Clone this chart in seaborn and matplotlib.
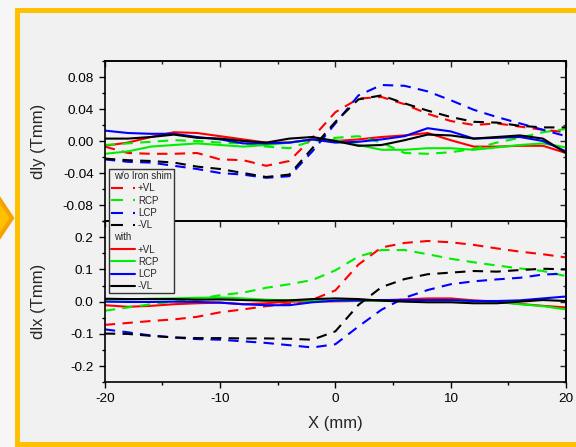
import matplotlib
matplotlib.use("Agg")
import matplotlib.pyplot as plt
import numpy as np
import pandas as pd
import seaborn as sns
from matplotlib.lines import Line2D
from matplotlib.patches import Rectangle, Polygon
from matplotlib.ticker import MultipleLocator, FormatStrFormatter

# ---- data -------------------------------------------------------------
x_mm = [-20, -18, -16, -14, -12, -10, -8, -6, -4, -2, 0,
        2, 4, 6, 8, 10, 12, 14, 16, 18, 20]
polarizations = ["+VL", "RCP", "LCP", "-VL"]
shim_states = ["w/o Iron shim", "with"]

# dIy, without iron shim
dly_wo_pVL = [-0.007, -0.015, -0.016, -0.016, -0.015, -0.023, -0.024, -0.031, -0.025, 0.004, 0.036,
              0.053, 0.055, 0.046, 0.034, 0.025, 0.020, 0.022, 0.018, 0.014, 0.011]
dly_wo_RCP = [-0.005, -0.003, -0.001, 0.001, 0.000, -0.002, -0.003, -0.007, -0.009, 0.000, 0.004,
              0.006, -0.002, -0.015, -0.016, -0.014, -0.010, -0.002, 0.004, 0.011, 0.015]
dly_wo_LCP = [-0.023, -0.026, -0.027, -0.031, -0.035, -0.040, -0.042, -0.046, -0.044, -0.013, 0.022,
              0.057, 0.070, 0.069, 0.062, 0.051, 0.039, 0.030, 0.022, 0.014, 0.006]
dly_wo_mVL = [-0.022, -0.024, -0.025, -0.027, -0.032, -0.035, -0.040, -0.045, -0.042, -0.009, 0.024,
              0.052, 0.057, 0.047, 0.038, 0.030, 0.024, 0.023, 0.019, 0.017, 0.017]
# dIy, with iron shim
dly_w_pVL = [-0.006, -0.002, 0.005, 0.011, 0.010, 0.006, 0.002, -0.002, -0.002, 0.002, 0.000,
             0.002, 0.005, 0.007, 0.010, 0.001, -0.007, -0.007, -0.006, -0.006, -0.015]
dly_w_RCP = [-0.016, -0.013, -0.007, -0.005, -0.003, -0.005, -0.007, -0.005, -0.002, 0.002, 0.001,
             -0.005, -0.011, -0.011, -0.009, -0.009, -0.011, -0.008, -0.005, -0.003, -0.008]
dly_w_LCP = [0.013, 0.010, 0.009, 0.009, 0.005, 0.002, -0.003, -0.003, -0.002, 0.002, -0.002,
             -0.001, 0.002, 0.006, 0.016, 0.012, 0.003, 0.004, 0.005, 0.000, -0.013]
dly_w_mVL = [0.003, 0.003, 0.005, 0.008, 0.004, 0.003, 0.000, -0.002, 0.003, 0.005, 0.000,
             -0.006, -0.005, 0.001, 0.008, 0.007, 0.003, 0.005, 0.007, 0.003, -0.015]

# dIx, without iron shim
dlx_wo_pVL = [-0.072, -0.066, -0.060, -0.055, -0.047, -0.033, -0.024, -0.014, -0.006, 0.006, 0.035,
              0.115, 0.168, 0.182, 0.188, 0.184, 0.176, 0.165, 0.155, 0.147, 0.137]
dlx_wo_RCP = [-0.028, -0.018, -0.008, 0.000, 0.008, 0.020, 0.028, 0.043, 0.054, 0.067, 0.097,
              0.140, 0.160, 0.160, 0.147, 0.133, 0.122, 0.112, 0.103, 0.095, 0.079]
dlx_wo_LCP = [-0.086, -0.095, -0.105, -0.111, -0.116, -0.118, -0.123, -0.128, -0.135, -0.142, -0.132,
              -0.077, -0.025, 0.012, 0.036, 0.054, 0.063, 0.069, 0.074, 0.084, 0.087]
dlx_wo_mVL = [-0.099, -0.100, -0.106, -0.111, -0.113, -0.113, -0.114, -0.114, -0.115, -0.118, -0.092,
              -0.010, 0.045, 0.070, 0.085, 0.090, 0.095, 0.093, 0.098, 0.102, 0.100]
# dIx, with iron shim
dlx_w_pVL = [-0.011, -0.016, -0.013, -0.008, -0.005, -0.003, -0.008, -0.005, 0.000, 0.001, 0.001,
             0.002, 0.004, 0.007, 0.010, 0.010, 0.004, 0.000, -0.007, -0.013, -0.018]
dlx_w_RCP = [0.006, 0.007, 0.009, 0.010, 0.012, 0.013, 0.010, 0.006, 0.004, 0.003, 0.003,
             0.003, 0.003, 0.004, 0.004, 0.004, 0.002, -0.001, -0.008, -0.014, -0.024]
dlx_w_LCP = [0.000, -0.001, -0.001, 0.000, -0.001, -0.003, -0.008, -0.011, -0.011, -0.002, 0.003,
             0.004, 0.005, 0.005, 0.005, 0.005, 0.002, 0.002, 0.004, 0.010, 0.016]
dlx_w_mVL = [0.009, 0.008, 0.008, 0.008, 0.006, 0.007, 0.005, 0.003, 0.004, 0.008, 0.010,
             0.008, 0.003, 0.000, -0.002, -0.002, -0.005, -0.005, 0.000, 0.005, 0.002]

dly_series = {("w/o Iron shim", "+VL"): dly_wo_pVL, ("w/o Iron shim", "RCP"): dly_wo_RCP,
              ("w/o Iron shim", "LCP"): dly_wo_LCP, ("w/o Iron shim", "-VL"): dly_wo_mVL,
              ("with", "+VL"): dly_w_pVL, ("with", "RCP"): dly_w_RCP,
              ("with", "LCP"): dly_w_LCP, ("with", "-VL"): dly_w_mVL}
dlx_series = {("w/o Iron shim", "+VL"): dlx_wo_pVL, ("w/o Iron shim", "RCP"): dlx_wo_RCP,
              ("w/o Iron shim", "LCP"): dlx_wo_LCP, ("w/o Iron shim", "-VL"): dlx_wo_mVL,
              ("with", "+VL"): dlx_w_pVL, ("with", "RCP"): dlx_w_RCP,
              ("with", "LCP"): dlx_w_LCP, ("with", "-VL"): dlx_w_mVL}

# ---- style ------------------------------------------------------------
sns.set_style("ticks")
plt.rcParams["font.family"] = ["Liberation Sans", "DejaVu Sans"]
plt.rcParams["axes.unicode_minus"] = False

colors = {"+VL": "#ff0000", "RCP": "#00ee00", "LCP": "#0000ff", "-VL": "#000000"}
dash_map = {"w/o Iron shim": (5, 3.5), "with": ""}
INNER_BG = "#f1f1f1"

W, H = 576, 447


def fx(x):
    return x / W


def fy(y):
    return 1 - y / H


def long_frame(series):
    rows = []
    for (shim, pol), vals in series.items():
        for xv, v in zip(x_mm, vals):
            rows.append({"X": xv, "v": v, "pol": pol, "shim": shim})
    return pd.DataFrame(rows)


fig = plt.figure(figsize=(W / 100, H / 100), dpi=100, facecolor="#f6f6f6")

# slide decoration: gold frame and chevron
fig.add_artist(Rectangle((fx(17), fy(443.5)), fx(700), (443.5 - 9.5) / H,
                         transform=fig.transFigure, facecolor=INNER_BG,
                         edgecolor="#ffc000", lw=3.6, zorder=0))
fig.add_artist(Polygon([(fx(-30), fy(155)), (fx(12), fy(218)), (fx(-30), fy(281))],
                       closed=True, transform=fig.transFigure, facecolor="#ffc000",
                       edgecolor="#f5a300", lw=3, joinstyle="miter", zorder=1))

ax_y = fig.add_axes([fx(104.8), fy(221), (566 - 104.8) / W, (221 - 61) / H])
ax_x = fig.add_axes([fx(104.8), fy(382.3), (566 - 104.8) / W, (382.3 - 221) / H])

for ax, series in ((ax_y, dly_series), (ax_x, dlx_series)):
    ax.set_facecolor("none")
    sns.lineplot(data=long_frame(series), x="X", y="v", hue="pol", style="shim",
                 hue_order=polarizations, style_order=shim_states, palette=colors,
                 dashes=dash_map, estimator=None, legend=False, lw=1.5, ax=ax)


def style_axes(ax, ymaj, ymin, yfmt, ylim, xlabels):
    ax.set_xlim(-20, 20)
    ax.set_ylim(*ylim)
    ax.xaxis.set_major_locator(MultipleLocator(10))
    ax.xaxis.set_minor_locator(MultipleLocator(5))
    ax.yaxis.set_major_locator(MultipleLocator(ymaj))
    ax.yaxis.set_minor_locator(MultipleLocator(ymin))
    ax.yaxis.set_major_formatter(FormatStrFormatter(yfmt))
    ax.xaxis.set_major_formatter(FormatStrFormatter("%d"))
    ax.tick_params(axis="both", which="both", direction="out", top=False, right=False,
                   width=1.0, labelsize=9.7, pad=4, colors="black")
    ax.tick_params(which="major", length=4)
    ax.tick_params(which="minor", length=2.5)
    if not xlabels:
        ax.tick_params(axis="x", which="both", bottom=False, labelbottom=False)
    for s in ax.spines.values():
        s.set_visible(True)
        s.set_linewidth(1.2)
        s.set_color("black")
    # mirrored ticks pointing into the plot on the right and top
    sr = ax.secondary_yaxis("right")
    sr.yaxis.set_major_locator(MultipleLocator(ymaj))
    sr.yaxis.set_minor_locator(MultipleLocator(ymin))
    sr.tick_params(which="both", direction="in", labelright=False, width=1.0)
    sr.tick_params(which="major", length=4)
    sr.tick_params(which="minor", length=2.5)
    sr.spines["right"].set_linewidth(1.2)
    st = ax.secondary_xaxis("top")
    st.xaxis.set_major_locator(MultipleLocator(10))
    st.xaxis.set_minor_locator(MultipleLocator(5))
    st.tick_params(which="both", direction="in", labeltop=False, width=1.0)
    st.tick_params(which="major", length=4)
    st.tick_params(which="minor", length=2.5)
    st.spines["top"].set_linewidth(1.2)


style_axes(ax_y, 0.04, 0.02, "%.2f", (-0.1, 0.1), False)
style_axes(ax_x, 0.1, 0.05, "%.1f", (-0.25, 0.25), True)

label_x = (38.6 - 104.8) / (566 - 104.8)
ax_y.set_xlabel("")
ax_y.set_ylabel("dly (Tmm)", fontsize=12)
ax_y.yaxis.set_label_coords(label_x, 0.5)
ax_y.yaxis.label.set_va("center")
ax_x.set_ylabel("dlx (Tmm)", fontsize=12)
ax_x.yaxis.set_label_coords(label_x, 0.5)
ax_x.yaxis.label.set_va("center")
ax_x.set_xlabel("X (mm)", fontsize=12)
ax_x.xaxis.set_label_coords(0.5, (382.3 - 423.3) / (382.3 - 221))
ax_x.xaxis.label.set_va("center")

# ---- legend spanning both panels ----------------------------------------
handles = [Line2D([], [], color="none")]
handles += [Line2D([], [], color=colors[p], lw=1.5, dashes=(5.76, 4.8, 1.0, 5.0)) for p in polarizations]
handles += [Line2D([], [], color="none")]
handles += [Line2D([], [], color=colors[p], lw=1.5) for p in polarizations]
labels = ["w/o Iron shim"] + polarizations + ["with"] + polarizations

leg = fig.legend(handles, labels, loc="upper left", bbox_to_anchor=(fx(109.3), fy(169.3)),
                 borderaxespad=0, fontsize=7, handlelength=2.47, handletextpad=0.28,
                 borderpad=0.2, labelspacing=0.23, frameon=True, fancybox=False,
                 framealpha=1, facecolor=INNER_BG, edgecolor="#333333")
leg.get_frame().set_linewidth(1.0)
# group headings carry no line sample
for col in leg._legend_handle_box.get_children():
    for row in col.get_children():
        da, ta = row.get_children()
        if ta.get_text() in shim_states:
            da.width = 0

fig.savefig("out.png", dpi=100, facecolor=fig.get_facecolor())
